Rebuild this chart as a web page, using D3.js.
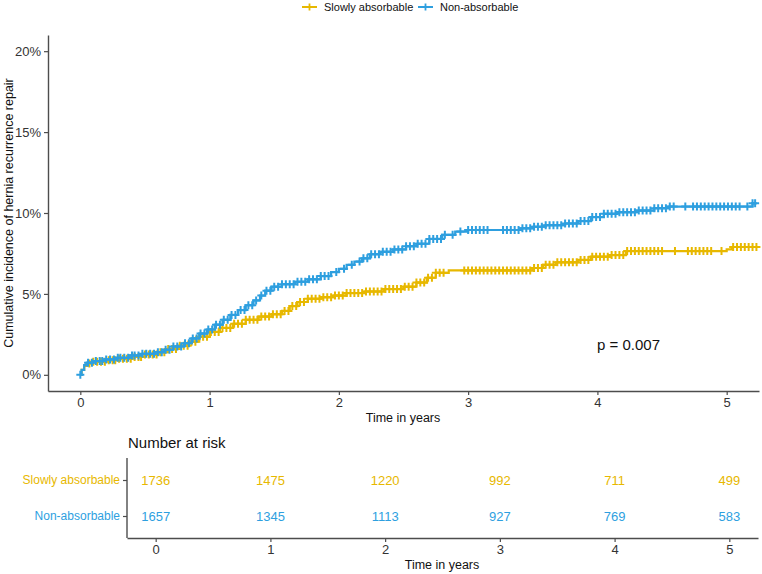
<!DOCTYPE html>
<html>
<head>
<meta charset="utf-8">
<script src="https://cdn.jsdelivr.net/npm/d3@7"></script>
<style>
  body { margin: 0; background: #fff; }
  svg { font-family: "Liberation Sans", Arial, sans-serif; }
</style>
</head>
<body>
<svg id="chart" width="762" height="574"></svg>
<script>
// groups and colours
const groups = ["Slowly absorbable", "Non-absorbable"];
const groupColors = ["#E7B800", "#2E9FDF"];

// cumulative incidence (%) steps: [years, percent]
const slowSteps = [[0,0],[0.01,0.3],[0.03,0.55],[0.05,0.7],[0.1,0.8],[0.2,0.9],[0.3,1.0],[0.4,1.1],[0.5,1.25],
  [0.6,1.4],[0.68,1.6],[0.76,1.8],[0.84,2.05],[0.92,2.35],[1.0,2.65],[1.08,2.9],[1.18,3.15],[1.28,3.4],
  [1.38,3.6],[1.48,3.75],[1.56,3.95],[1.62,4.25],[1.68,4.5],[1.76,4.7],[1.86,4.8],[1.96,4.9],[2.06,5.05],
  [2.2,5.15],[2.35,5.3],[2.5,5.45],[2.6,5.7],[2.68,6.0],[2.75,6.3],[2.85,6.45],[3.5,6.6],[3.58,6.8],
  [3.68,6.95],[3.85,7.1],[3.95,7.3],[4.1,7.4],[4.22,7.65],[5.0,7.75],[5.04,7.9],[5.23,7.9]];
const nonSteps = [[0,0],[0.01,0.3],[0.03,0.6],[0.05,0.75],[0.1,0.85],[0.18,0.95],[0.28,1.05],[0.38,1.2],
  [0.48,1.3],[0.58,1.4],[0.65,1.55],[0.72,1.75],[0.8,1.95],[0.86,2.25],[0.92,2.55],[0.98,2.8],[1.04,3.1],
  [1.1,3.4],[1.16,3.7],[1.22,4.0],[1.28,4.3],[1.34,4.6],[1.39,4.9],[1.43,5.2],[1.48,5.45],[1.56,5.6],
  [1.66,5.75],[1.76,5.9],[1.86,6.1],[1.94,6.35],[2.0,6.55],[2.06,6.8],[2.12,7.0],[2.18,7.2],[2.24,7.45],
  [2.32,7.6],[2.42,7.75],[2.52,7.95],[2.6,8.1],[2.7,8.4],[2.8,8.65],[2.9,8.85],[3.0,8.95],[3.4,9.05],
  [3.5,9.15],[3.6,9.25],[3.75,9.35],[3.85,9.5],[3.95,9.75],[4.05,9.95],[4.15,10.05],[4.3,10.15],
  [4.44,10.3],[4.55,10.4],[5.2,10.6],[5.23,10.6]];

// censoring times (years)
const slowCens = [0.07,0.1,0.13,0.16,0.19,0.22,0.25,0.27,0.3,0.33,0.36,0.39,0.42,0.45,0.47,0.5,0.53,0.56,
  0.59,0.62,0.65,0.68,0.71,0.74,0.77,0.8,0.83,0.86,0.89,0.92,0.95,0.98,1.01,1.04,1.07,1.1,1.13,1.16,1.19,
  1.22,1.25,1.28,1.31,1.34,1.37,1.4,1.43,1.46,1.49,1.52,1.55,1.58,1.61,1.64,1.67,1.7,1.73,1.76,1.79,1.82,
  1.85,1.88,1.91,1.94,1.97,2.0,2.03,2.06,2.09,2.12,2.15,2.18,2.21,2.24,2.27,2.3,2.33,2.36,2.39,2.42,2.45,
  2.48,2.51,2.54,2.57,2.6,2.63,2.66,2.69,2.72,2.75,2.78,2.81,2.97,3.0,3.03,3.06,3.09,3.12,3.15,3.18,3.21,
  3.24,3.27,3.3,3.33,3.36,3.39,3.42,3.45,3.48,3.51,3.54,3.57,3.6,3.63,3.66,3.69,3.72,3.75,3.78,3.81,3.84,
  3.87,3.9,3.93,3.96,3.99,4.02,4.05,4.08,4.11,4.14,4.17,4.2,4.23,4.26,4.29,4.32,4.35,4.38,4.41,4.44,4.47,
  4.5,4.6,4.7,4.73,4.76,4.79,4.82,4.85,4.88,4.96,5.05,5.08,5.11,5.14,5.17,5.2,5.23];
const nonCens = [0,0.06,0.09,0.12,0.15,0.17,0.2,0.23,0.26,0.29,0.31,0.34,0.37,0.4,0.42,0.45,0.48,0.51,0.54,
  0.57,0.6,0.63,0.66,0.69,0.72,0.75,0.78,0.81,0.84,0.87,0.9,0.93,0.96,0.99,1.02,1.05,1.08,1.11,1.14,1.17,
  1.2,1.24,1.27,1.3,1.33,1.36,1.4,1.44,1.47,1.5,1.53,1.56,1.59,1.62,1.65,1.68,1.71,1.74,1.77,1.8,1.83,
  1.86,1.89,1.92,1.98,2.04,2.1,2.16,2.19,2.22,2.25,2.28,2.31,2.34,2.37,2.4,2.43,2.46,2.49,2.52,2.55,2.58,
  2.61,2.64,2.67,2.7,2.73,2.76,2.79,2.82,2.88,2.94,3.0,3.03,3.06,3.09,3.12,3.15,3.27,3.3,3.33,3.36,3.39,
  3.42,3.45,3.48,3.51,3.54,3.57,3.6,3.63,3.66,3.69,3.72,3.75,3.78,3.81,3.84,3.87,3.9,3.93,3.96,3.99,4.02,
  4.05,4.08,4.11,4.14,4.17,4.2,4.23,4.26,4.29,4.32,4.35,4.38,4.41,4.44,4.47,4.5,4.53,4.56,4.59,4.68,4.74,
  4.77,4.8,4.83,4.86,4.89,4.92,4.95,4.98,5.01,5.04,5.07,5.1,5.16,5.2,5.22];

// number at risk table
const riskTimes = [0, 1, 2, 3, 4, 5];
const slowRisk = [1736, 1475, 1220, 992, 711, 499];
const nonRisk = [1657, 1345, 1113, 927, 769, 583];

const yTicks = [0, 5, 10, 15, 20];
const pText = "p = 0.007";

const svg = d3.select("#chart");
const axisColor = "#4d4d4d";
const textColor = "#333";

// main panel scales
const x = d3.scaleLinear().domain([-0.25, 5.25]).range([48, 759]);
const y = d3.scaleLinear().domain([-1, 21]).range([391, 35]);

function styleAxis(g) {
  g.select(".domain").attr("stroke", axisColor).attr("stroke-width", 1.4);
  g.selectAll(".tick line").attr("stroke", axisColor).attr("stroke-width", 1.2);
  g.selectAll(".tick text").attr("fill", textColor).attr("font-size", 13);
}

svg.append("g")
  .attr("transform", "translate(0,391)")
  .call(d3.axisBottom(x).tickValues(riskTimes).tickFormat(d3.format("d"))
    .tickSize(4).tickSizeOuter(0).tickPadding(3))
  .call(styleAxis);

svg.append("g")
  .attr("transform", "translate(48,0)")
  .call(d3.axisLeft(y).tickValues(yTicks).tickFormat(d => d + "%").tickSize(4).tickSizeOuter(0).tickPadding(3))
  .call(styleAxis);

// step curves + censor marks
const line = d3.line().x(d => x(d[0])).y(d => y(d[1])).curve(d3.curveStepAfter);
const bis = d3.bisector(d => d[0]).right;
function valueAt(steps, t) {
  return steps[Math.max(0, bis(steps, t) - 1)][1];
}

function drawCurve(steps, cens, color) {
  const g = svg.append("g");
  g.append("path").datum(steps)
    .attr("d", line)
    .attr("fill", "none")
    .attr("stroke", color)
    .attr("stroke-width", 2.2);
  g.selectAll("path.cens").data(cens).enter().append("path")
    .attr("class", "cens")
    .attr("d", "M-4,0H4M0,-4V4")
    .attr("transform", t => `translate(${x(t)},${y(valueAt(steps, t))})`)
    .attr("stroke", color)
    .attr("stroke-width", 2);
}
drawCurve(slowSteps, slowCens, groupColors[0]);
drawCurve(nonSteps, nonCens, groupColors[1]);

// p value
svg.append("text")
  .attr("x", 597).attr("y", 350)
  .attr("font-size", 15).attr("fill", "#111")
  .text(pText);

// axis titles
svg.append("text")
  .attr("x", 403).attr("y", 422)
  .attr("text-anchor", "middle").attr("font-size", 12.5).attr("fill", "#111")
  .text("Time in years");
svg.append("text")
  .attr("transform", "translate(13,213) rotate(-90)")
  .attr("text-anchor", "middle").attr("font-size", 12.5).attr("fill", "#111")
  .text("Cumulative incidence of hernia recurrence repair");

// legend
const legendX = [302, 418];
groups.forEach((name, i) => {
  const lg = svg.append("g").attr("transform", `translate(${legendX[i]},7)`);
  lg.append("line").attr("x1", 0).attr("x2", 15).attr("y1", 0).attr("y2", 0)
    .attr("stroke", groupColors[i]).attr("stroke-width", 2);
  lg.append("path").attr("d", "M4,0H11M7.5,-3.5V3.5")
    .attr("stroke", groupColors[i]).attr("stroke-width", 1.8);
  lg.append("text").attr("x", 22).attr("y", 4)
    .attr("font-size", 11).attr("fill", "#111")
    .text(name);
});

// risk table
const rx = d3.scaleLinear().domain([-0.25, 5.25]).range([127, 758]);
const ry = d3.scalePoint().domain(groups).range([480, 516]);

svg.append("text")
  .attr("x", 128).attr("y", 448)
  .attr("font-size", 15).attr("fill", "#111")
  .text("Number at risk");

svg.append("g")
  .attr("transform", "translate(0,538)")
  .call(d3.axisBottom(rx).tickValues(riskTimes).tickFormat(d3.format("d"))
    .tickSize(4).tickSizeOuter(0).tickPadding(3))
  .call(styleAxis);

const ryAxis = svg.append("g")
  .attr("transform", "translate(127,0)")
  .call(d3.axisLeft(ry).tickSize(4).tickSizeOuter(0).tickPadding(3))
  .call(styleAxis);
ryAxis.select(".domain").attr("d", "M0,458V538");
ryAxis.selectAll(".tick text")
  .attr("font-size", 12)
  .attr("fill", (d, i) => groupColors[i]);

const riskRows = [slowRisk, nonRisk];
riskRows.forEach((vals, i) => {
  svg.append("g").selectAll("text").data(vals).enter().append("text")
    .attr("x", (d, j) => rx(riskTimes[j]))
    .attr("y", ry(groups[i]))
    .attr("dy", "0.35em")
    .attr("text-anchor", "middle")
    .attr("font-size", 13)
    .attr("fill", groupColors[i])
    .text(d => d);
});

svg.append("text")
  .attr("x", 442).attr("y", 569)
  .attr("text-anchor", "middle").attr("font-size", 12.5).attr("fill", "#111")
  .text("Time in years");
</script>
</body>
</html>
